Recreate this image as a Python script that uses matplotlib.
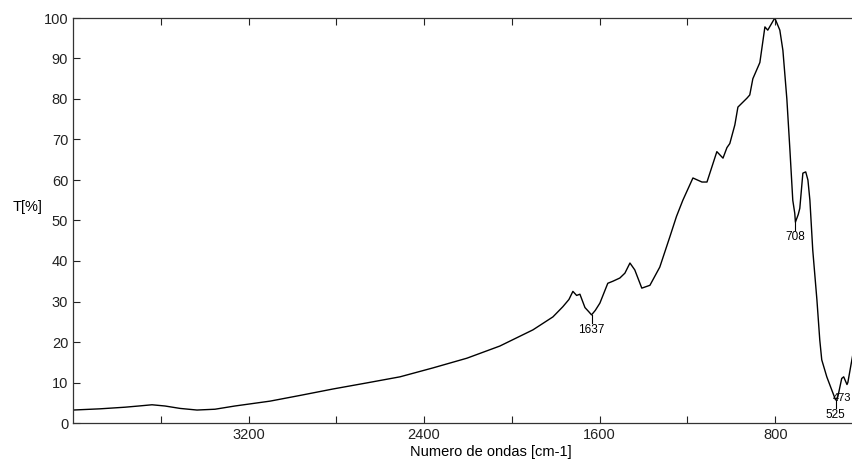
import numpy as np
import matplotlib
matplotlib.use("Agg")
import matplotlib.pyplot as plt

# espectro IR
wavenumber = [4000, 3877, 3763, 3700, 3640, 3581, 3512, 3435, 3353, 3262, 3102, 2966,
              2815, 2661, 2510, 2360, 2205, 2055, 1904, 1813, 1768, 1740, 1722, 1705,
              1690, 1667, 1650, 1637, 1620, 1599, 1563, 1540, 1508, 1485, 1462, 1440,
              1408, 1371, 1326, 1280, 1250, 1221, 1175, 1134, 1111, 1066, 1038, 1020,
              1007, 984, 970, 929, 916, 902, 870, 847, 834, 802, 779, 765, 747, 733,
              720, 711, 708, 695, 688, 674, 661, 651, 642, 629, 610, 597, 588, 565,
              542, 525, 515, 497, 488, 473, 469, 455, 446, 420, 400]
transmit = [3.2, 3.5, 3.9, 4.2, 4.5, 4.2, 3.6, 3.2, 3.4, 4.2, 5.4, 6.8,
            8.4, 9.9, 11.4, 13.6, 16.0, 19.0, 23.0, 26.2, 28.7, 30.5, 32.5, 31.5,
            31.8, 28.5, 27.5, 26.7, 27.8, 29.6, 34.5, 35.0, 35.8, 37.0, 39.5, 37.8,
            33.3, 34.0, 38.5, 46.0, 51.0, 55.0, 60.5, 59.5, 59.5, 67.0, 65.4, 68.0,
            69.0, 73.6, 78.0, 80.2, 81.0, 85.0, 89.0, 97.8, 97.0, 100.0, 97.0, 92.0,
            80.0, 67.4, 55.0, 51.8, 49.6, 51.5, 53.0, 61.7, 62.0, 60.0, 55.0, 42.7,
            30.4, 20.5, 15.6, 11.4, 8.1, 5.7, 6.4, 11.0, 11.4, 9.5, 10.0, 14.3,
            17.0, 23.0, 27.0]

peak_labels = [1637, 708, 525]
side_label = 473

xticks = [3600, 3200, 2800, 2400, 2000, 1600, 1200, 800, 400]
xlabels = ['', '3200', '', '2400', '', '1600', '', '800', '']

plt.rcParams['font.family'] = ['Liberation Sans', 'DejaVu Sans']

fig = plt.figure(figsize=(8.53, 4.61), dpi=100)
ax = fig.add_axes([73 / 853, 38 / 461, 790 / 853, 405 / 461])
ax.plot(wavenumber, transmit, color='black', lw=1.0)

ax.set_xlim(4000, 400)
ax.set_ylim(0, 100)
ax.set_xticks(xticks)
ax.set_xticklabels(xlabels)
ax.set_yticks(np.arange(0, 101, 10))
ax.tick_params(direction='in', length=5, width=0.8, labelsize=10.5,
               top=True, right=True, colors='#222222')
for s in ax.spines.values():
    s.set_linewidth(0.9)
    s.set_color('#333333')

for w in peak_labels:
    y = np.interp(w, wavenumber[::-1], transmit[::-1])
    ax.plot([w, w], [y, y - 2.0], color='black', lw=0.8)
    ax.text(w, y - 2.3, str(w), ha='center', va='top', fontsize=8.5)

# la etiqueta 473 queda pegada al borde derecho
y = np.interp(side_label, wavenumber[::-1], transmit[::-1])
ax.text(452, y - 3.3, str(side_label), ha='right', va='center', fontsize=8)

ax.set_xlabel('Numero de ondas [cm-1]', fontsize=10.5)
ax.xaxis.set_label_coords((491 - 73) / 790, -0.055)
ax.set_ylabel('T[%]', fontsize=10.5, rotation=0)
ax.yaxis.set_label_coords(-0.058, 0.516)

fig.savefig('out.png', dpi=100)
